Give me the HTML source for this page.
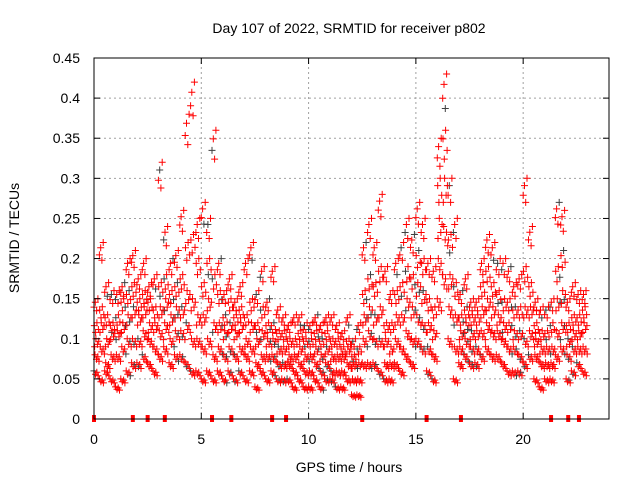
<!DOCTYPE html>
<html><head><meta charset="utf-8"><style>
html,body{margin:0;padding:0;background:#fff}
svg{display:block;font-family:"Liberation Sans",sans-serif}
</style></head><body>
<svg id="chart" width="640" height="480">
<text x="349" y="33" text-anchor="middle" font-size="14">Day 107 of 2022, SRMTID for receiver p802</text>
<text x="349" y="472" text-anchor="middle" font-size="14">GPS time / hours</text>
<text x="0" y="0" transform="translate(19,238) rotate(-90)" text-anchor="middle" font-size="14">SRMTID / TECUs</text>
<g id="grid"></g>
<g id="marks"></g>
<rect x="94" y="58" width="515" height="361" fill="none" stroke="#000" stroke-width="1"/>
<g id="axes"></g>
</svg>
<script>
const xTicks=[0,5,10,15,20];
const yTicks=[0,0.05,0.1,0.15,0.2,0.25,0.3,0.35,0.4,0.45];
const yTickLabels=["0","0.05","0.1","0.15","0.2","0.25","0.3","0.35","0.4","0.45"];
const binStart=0, binStep=0.25;
const seriesLow=[.06,.05,.06,.05,.04,.05,.06,.07,.07,.08,.07,.06,.08,.09,.07,.08,.08,.07,.06,.06,.05,.06,.05,.06,.05,.06,.05,.06,.05,.06,.04,.06,.05,.06,.05,.05,.05,.04,.05,.04,.04,.05,.04,.05,.05,.04,.04,.05,.03,.03,.07,.07,.07,.06,.05,.05,.07,.06,.08,.07,.10,.09,.06,.05,.15,.18,.10,.05,.07,.08,.07,.07,.08,.09,.08,.08,.07,.06,.06,.06,.07,.08,.05,.04,.05,.05,.08,.09,.05,.06,.07,.06];
const seriesMid1=[.08,.09,.07,.08,.08,.09,.10,.10,.10,.11,.10,.09,.11,.12,.10,.11,.11,.12,.10,.10,.09,.10,.08,.09,.08,.09,.08,.09,.08,.09,.07,.08,.08,.08,.07,.07,.07,.06,.07,.06,.06,.07,.06,.07,.06,.06,.06,.07,.05,.05,.10,.11,.10,.10,.07,.07,.10,.09,.11,.10,.13,.12,.09,.08,.20,.24,.14,.09,.09,.10,.09,.09,.11,.12,.11,.11,.10,.09,.09,.08,.10,.11,.08,.07,.07,.07,.11,.12,.08,.09,.09,.09];
const seriesMid2=[.10,.12,.10,.11,.11,.12,.13,.14,.13,.14,.12,.12,.14,.15,.13,.14,.14,.16,.15,.13,.13,.15,.12,.12,.11,.12,.11,.12,.10,.12,.10,.11,.10,.10,.09,.09,.08,.08,.09,.08,.08,.09,.08,.09,.08,.08,.08,.09,.07,.07,.13,.14,.13,.14,.10,.09,.13,.13,.15,.14,.17,.16,.12,.11,.25,.30,.18,.13,.11,.12,.11,.11,.14,.15,.14,.13,.12,.12,.11,.11,.14,.14,.10,.09,.09,.09,.15,.16,.10,.11,.11,.12];
const seriesMid3=[.12,.14,.13,.12,.13,.15,.16,.17,.15,.16,.15,.14,.17,.18,.16,.17,.18,.22,.23,.20,.17,.20,.18,.16,.13,.15,.13,.14,.13,.15,.12,.14,.12,.12,.11,.11,.10,.10,.11,.10,.10,.11,.10,.11,.10,.10,.09,.10,.08,.09,.16,.18,.17,.19,.12,.12,.16,.17,.19,.18,.21,.20,.15,.14,.30,.36,.23,.17,.13,.14,.13,.13,.17,.19,.17,.16,.15,.15,.14,.14,.19,.17,.12,.11,.11,.12,.19,.21,.12,.13,.13,.14];
const seriesHigh=[.15,.22,.17,.16,.16,.17,.20,.21,.18,.20,.17,.18,.32,.24,.20,.21,.26,.38,.42,.25,.27,.25,.36,.20,.16,.18,.15,.17,.20,.22,.16,.19,.15,.19,.14,.13,.12,.13,.13,.12,.12,.13,.12,.13,.13,.12,.11,.13,.10,.12,.22,.25,.22,.28,.19,.16,.20,.22,.25,.23,.27,.25,.20,.19,.35,.43,.30,.25,.16,.18,.15,.15,.20,.23,.22,.20,.20,.19,.17,.18,.30,.24,.15,.14,.14,.15,.27,.26,.15,.17,.16,.16];
const zeroTimes=[0,1.81,2.5,3.3,5.5,6.4,8.3,8.95,12.5,15.5,17.1,21.3,22.1,22.6];

const X0=94,X1=609,Y0=419,Y1=58,XMAX=24,YMAX=0.45;
const xs=v=>X0+(v/XMAX)*(X1-X0);
const ys=v=>Y0-(v/YMAX)*(Y0-Y1);
const NS="http://www.w3.org/2000/svg";
const grid=document.getElementById('grid'),axes=document.getElementById('axes'),marks=document.getElementById('marks');
function mk(tag,attrs,parent){const e=document.createElementNS(NS,tag);for(const k in attrs)e.setAttribute(k,attrs[k]);parent.appendChild(e);return e;}
xTicks.forEach(t=>{
  const x=xs(t);
  if(t>0){const g=mk('line',{x1:x,x2:x,y1:Y0,y2:Y1,stroke:'#a0a0a0','stroke-dasharray':'2,3'},grid);
  
  }
  mk('line',{x1:x,x2:x,y1:Y0,y2:Y0-6,stroke:'#000'},axes);
  mk('line',{x1:x,x2:x,y1:Y1,y2:Y1+6,stroke:'#000'},axes);
  const tx=mk('text',{x:x,y:Y0+25,'text-anchor':'middle','font-size':'14'},axes);
  tx.textContent=t;
  
  
});
yTicks.forEach((t,i)=>{
  const y=ys(t);
  if(i>0&&i<yTicks.length-1){const g=mk('line',{x1:X0,x2:X1,y1:y,y2:y,stroke:'#a0a0a0','stroke-dasharray':'2,3'},grid);
  
  }
  mk('line',{x1:X0,x2:X0+6,y1:y,y2:y,stroke:'#000'},axes);
  mk('line',{x1:X1,x2:X1-6,y1:y,y2:y,stroke:'#000'},axes);
  const tx=mk('text',{x:X0-14,y:y+5,'text-anchor':'end','font-size':'14'},axes);
  tx.textContent=yTickLabels[i];
  
  
});
const all=[seriesLow,seriesMid1,seriesMid2,seriesMid3,seriesHigh];
const offs=[0,0.07,0.13,0.19];
const scl=[1,0.93,0.97,0.9];
let d='',dg='';
all.forEach((s,k)=>{
  s.forEach((v,i)=>{
    offs.forEach((o,j)=>{
      const t=binStart+i*binStep+(k*0.045+o)%binStep;
      const vv=v*scl[j];
      const x=xs(t),y=ys(vv);
      const seg=`M${(x-3.5).toFixed(1)} ${y.toFixed(1)}h7M${x.toFixed(1)} ${(y-3.5).toFixed(1)}v7`;
      if((i+k+j)%9===0)dg+=seg;else d+=seg;
    });
  });
});
const pg=mk('path',{d:dg,stroke:'#404040','stroke-width':1,fill:'none'},marks);


const pr=mk('path',{d:d,stroke:'#ff0000','stroke-width':1,fill:'none'},marks);


zeroTimes.forEach(t=>{
  const r=mk('rect',{x:xs(t)-2,y:Y0-4,width:4,height:7,fill:'#ff0000'},marks);
  
  
});
</script>
</body></html>
